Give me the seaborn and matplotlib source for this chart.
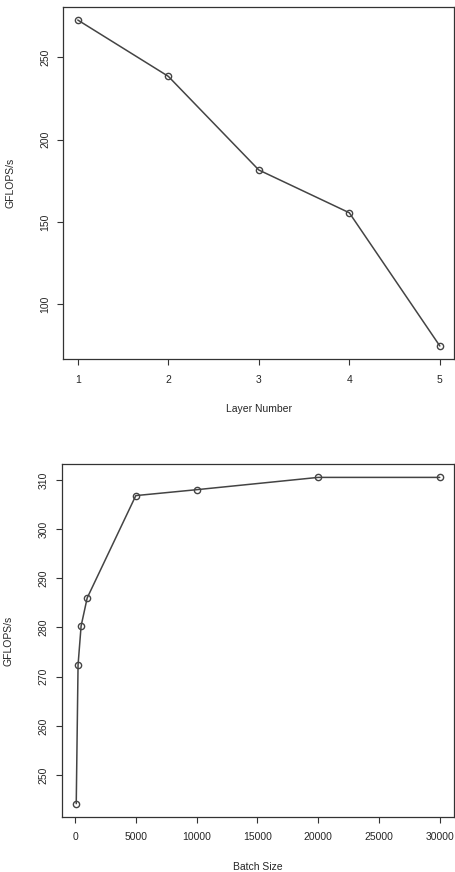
import matplotlib
matplotlib.use('Agg')
import matplotlib.pyplot as plt
import seaborn as sns

# values
layers = [1, 2, 3, 4, 5]
layer_gflops = [272.7, 238.5, 181.6, 155.6, 74.7]

batch_sizes = [100, 250, 500, 1000, 5000, 10000, 20000, 30000]
batch_gflops = [244.2, 272.4, 280.3, 286.0, 306.8, 308.0, 310.5, 310.5]

sns.set_style('ticks')
plt.rcParams['font.family'] = ['Liberation Sans', 'DejaVu Sans']

line_col = '#444444'
fig = plt.figure(figsize=(4.56, 8.72), dpi=100)


def r_style(ax, xs, ys, xticks, yticks, xlabel):
    # R base graphics: 4% padding, boxed plot, rotated y tick labels
    sns.lineplot(x=xs, y=ys, ax=ax, color=line_col, linewidth=1.1,
                 marker='o', markersize=4.5, markerfacecolor='none',
                 markeredgecolor=line_col, markeredgewidth=1.0)
    xr = max(xs) - min(xs)
    yr = max(ys) - min(ys)
    ax.set_xlim(min(xs) - 0.04 * xr, max(xs) + 0.04 * xr)
    ax.set_ylim(min(ys) - 0.04 * yr, max(ys) + 0.04 * yr)
    ax.set_xticks(xticks)
    ax.set_yticks(yticks)
    ax.set_xticklabels([str(t) for t in xticks], fontsize=7.5)
    ax.set_yticklabels([str(t) for t in yticks], fontsize=7.5, rotation=90, va='center')
    ax.tick_params(axis='x', length=4.3, width=0.8, pad=7, color='#333333')
    ax.tick_params(axis='y', length=4.3, width=0.8, pad=5, color='#333333')
    for s in ax.spines.values():
        s.set_visible(True)
        s.set_linewidth(0.9)
        s.set_color('#333333')
    ax.set_xlabel(xlabel, fontsize=7.5)
    ax.set_ylabel('GFLOPS/s', fontsize=7.5)
    ax.xaxis.set_label_coords(0.5, -0.128)
    ax.yaxis.set_label_coords(-0.122, 0.5)


ax1 = fig.add_axes([0.1388, 0.5883, 0.8575, 0.4037])
r_style(ax1, layers, layer_gflops, [1, 2, 3, 4, 5], [100, 150, 200, 250], 'Layer Number')

ax2 = fig.add_axes([0.1353, 0.0634, 0.8610, 0.4041])
r_style(ax2, batch_sizes, batch_gflops,
        [0, 5000, 10000, 15000, 20000, 25000, 30000],
        [250, 260, 270, 280, 290, 300, 310], 'Batch Size')

fig.savefig('out.png', dpi=100)
